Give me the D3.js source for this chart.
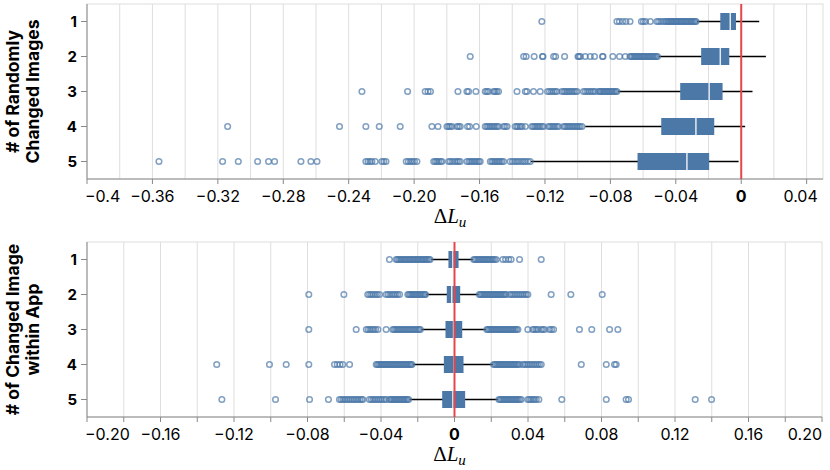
<!DOCTYPE html>
<html>
<head>
<meta charset="utf-8">
<script src="https://cdn.jsdelivr.net/npm/d3@7"></script>
<style>
  body { margin: 0; background: #fff; }
  text { font-family: Inter, "Liberation Sans", sans-serif; }
</style>
</head>
<body>
<svg id="chart" width="830" height="470"></svg>
<script>
const rows = ["1", "2", "3", "4", "5"];

// top panel: # of randomly changed images
const topLower  = [-0.0271, -0.0505, -0.0754, -0.0954, -0.1286];
const topQ1     = [-0.0128, -0.0245, -0.0373, -0.0489, -0.0634];
const topMedian = [-0.0067, -0.0128, -0.0196, -0.0277, -0.0332];
const topQ3     = [-0.0032, -0.0073, -0.0114, -0.0165, -0.0196];
const topUpper  = [0.011, 0.0151, 0.0069, 0.0024, -0.0016];
const topOutliers = [
  [-0.1219, -0.076, -0.0745, -0.0725, -0.0705, -0.068, -0.061, -0.0598, -0.0585, -0.0556,
   -0.0516, -0.0505, -0.0492, -0.0477, -0.0465, -0.0455, -0.0447, -0.044, -0.0432, -0.0425,
   -0.0418, -0.041, -0.0402, -0.0395, -0.0388, -0.038, -0.0372, -0.0365, -0.0358, -0.035,
   -0.0342, -0.0335, -0.0328, -0.032, -0.0312, -0.0305, -0.0298, -0.029, -0.0282, -0.0276],
  [-0.1657, -0.133, -0.1315, -0.1266, -0.1215, -0.1212, -0.1147, -0.1135, -0.108, -0.0998,
   -0.0992, -0.0984, -0.0954, -0.0923, -0.0897, -0.0848, -0.0845, -0.0785, -0.0744, -0.0709,
   -0.068, -0.0672, -0.0665, -0.0655, -0.0648, -0.064, -0.0632, -0.0625, -0.0618, -0.061,
   -0.0602, -0.0595, -0.0588, -0.058, -0.0572, -0.0565, -0.0558, -0.055, -0.0542, -0.0535,
   -0.0527, -0.052, -0.0512],
  [-0.2319, -0.204, -0.1932, -0.1915, -0.19, -0.1732, -0.1677, -0.1667, -0.1622, -0.1565,
   -0.1555, -0.1545, -0.1514, -0.1505, -0.1495, -0.1484, -0.1371, -0.132, -0.131, -0.127,
   -0.1229, -0.1184, -0.1172, -0.116, -0.1148, -0.1137, -0.1127, -0.1096, -0.1085, -0.1075,
   -0.1065, -0.1055, -0.1045, -0.1035, -0.1025, -0.1014, -0.1004, -0.0964, -0.0952, -0.094,
   -0.0928, -0.0916, -0.0905, -0.0893, -0.0872, -0.0864, -0.0856, -0.0848, -0.084, -0.0832,
   -0.0824, -0.0816, -0.0808, -0.08, -0.0792, -0.0784, -0.0776, -0.0768, -0.076],
  [-0.314, -0.2456, -0.2295, -0.2213, -0.2085, -0.1891, -0.1854, -0.1799, -0.1789, -0.1779,
   -0.1769, -0.1738, -0.1728, -0.1718, -0.1673, -0.1661, -0.162, -0.1565, -0.1555, -0.1545,
   -0.1535, -0.1525, -0.1514, -0.1504, -0.1494, -0.1484, -0.1453, -0.1443, -0.1432, -0.1382,
   -0.1372, -0.1362, -0.135, -0.134, -0.132, -0.128, -0.127, -0.126, -0.125, -0.124,
   -0.123, -0.1219, -0.1209, -0.1178, -0.1168, -0.1158, -0.1148, -0.1138, -0.1127, -0.1117,
   -0.1086, -0.1076, -0.1066, -0.1056, -0.1046, -0.1036, -0.1026, -0.1015, -0.1005, -0.0995,
   -0.0985, -0.0974],
  [-0.356, -0.3171, -0.3075, -0.2957, -0.289, -0.2853, -0.2692, -0.2631, -0.2594, -0.2295,
   -0.2282, -0.227, -0.2258, -0.2238, -0.2197, -0.2185, -0.2172, -0.2048, -0.2035, -0.2022,
   -0.201, -0.1998, -0.1983, -0.188, -0.187, -0.186, -0.185, -0.1838, -0.183, -0.1789,
   -0.1778, -0.1765, -0.175, -0.1738, -0.1728, -0.1718, -0.1677, -0.1665, -0.1655, -0.1645,
   -0.1635, -0.1625, -0.1615, -0.1605, -0.1596, -0.1534, -0.1524, -0.1514, -0.1504, -0.1494,
   -0.1484, -0.1474, -0.1464, -0.1453, -0.1412, -0.1398, -0.1385, -0.1372, -0.136, -0.1345,
   -0.1332, -0.132, -0.1305, -0.129]
];

// bottom panel: # of changed image within app
const botLower  = [-0.0127, -0.0154, -0.0181, -0.0227, -0.0245];
const botQ1     = [-0.0033, -0.0042, -0.0049, -0.0058, -0.0067];
const botMedian = [-0.0009, -0.0015, -0.0005, -0.0002, -0.0009];
const botQ3     = [0.0022, 0.0031, 0.0042, 0.0049, 0.0058];
const botUpper  = [0.01, 0.0131, 0.0172, 0.0209, 0.0236];
const botOutliers = [
  [-0.0354, -0.0317, -0.031, -0.0302, -0.0295, -0.0288, -0.028, -0.0272, -0.0265, -0.0258,
   -0.025, -0.0243, -0.0236, -0.0228, -0.0221, -0.0214, -0.0206, -0.0199, -0.0192, -0.0184,
   -0.0177, -0.017, -0.0162, -0.0155, -0.0148, -0.014, -0.0133,
   0.0105, 0.0112, 0.012, 0.0128, 0.0135, 0.0143, 0.015, 0.0158, 0.0165, 0.0173,
   0.018, 0.0188, 0.0195, 0.0203, 0.021, 0.0218, 0.0227, 0.0263, 0.0278, 0.0295,
   0.0308, 0.0354, 0.0472],
  [-0.0793, -0.0602, -0.0472, -0.0462, -0.0452, -0.0442, -0.043, -0.042, -0.0408, -0.0372,
   -0.0362, -0.0352, -0.034, -0.033, -0.032, -0.031, -0.0299, -0.0254, -0.0247, -0.024,
   -0.0233, -0.0226, -0.0219, -0.0212, -0.0205, -0.0198, -0.019, -0.0183, -0.0176, -0.0169,
   -0.0162, -0.0158,
   0.0135, 0.0142, 0.0149, 0.0156, 0.0163, 0.017, 0.0177, 0.0184, 0.0191, 0.0198,
   0.0205, 0.0212, 0.0219, 0.0226, 0.0233, 0.024, 0.0247, 0.0254, 0.0261, 0.0268,
   0.0275, 0.0281, 0.03, 0.031, 0.032, 0.033, 0.034, 0.035, 0.036, 0.037,
   0.038, 0.039, 0.0399, 0.0526, 0.0633, 0.0804],
  [-0.0793, -0.0535, -0.048, -0.047, -0.046, -0.045, -0.044, -0.043, -0.0417, -0.0372,
   -0.0336, -0.0328, -0.032, -0.0312, -0.0304, -0.0296, -0.0288, -0.028, -0.0272, -0.0264,
   -0.0256, -0.0248, -0.024, -0.0232, -0.0224, -0.0216, -0.0208, -0.02, -0.0192, -0.0186,
   0.0176, 0.0183, 0.019, 0.0197, 0.0204, 0.0211, 0.0218, 0.0225, 0.0232, 0.0239,
   0.0246, 0.0253, 0.026, 0.0267, 0.0274, 0.0281, 0.0288, 0.0295, 0.0302, 0.0309,
   0.0316, 0.0323, 0.033, 0.0338, 0.0345, 0.0399, 0.0426, 0.0435, 0.0445, 0.0454,
   0.0472, 0.048, 0.049, 0.0517, 0.0528, 0.0539, 0.068, 0.0747, 0.0844, 0.0889],
  [-0.1294, -0.1007, -0.0916, -0.0793, -0.0653, -0.0638, -0.0623, -0.0608, -0.0571, -0.0426,
   -0.0419, -0.0412, -0.0405, -0.0398, -0.0391, -0.0384, -0.0377, -0.037, -0.0363, -0.0356,
   -0.0349, -0.0342, -0.0335, -0.0328, -0.0321, -0.0314, -0.0307, -0.03, -0.0293, -0.0286,
   -0.0279, -0.0272, -0.0265, -0.0258, -0.0251, -0.0244, -0.0237, -0.0232,
   0.0213, 0.022, 0.0227, 0.0234, 0.0241, 0.0248, 0.0255, 0.0262, 0.0269, 0.0276,
   0.0283, 0.029, 0.0297, 0.0304, 0.0311, 0.0318, 0.0325, 0.0332, 0.0339, 0.0346,
   0.0354, 0.0372, 0.0382, 0.0392, 0.0402, 0.0412, 0.0422, 0.0432, 0.0442, 0.0452,
   0.0462, 0.0472, 0.069, 0.0826, 0.0871, 0.088],
  [-0.1266, -0.0974, -0.0789, -0.0686, -0.0626, -0.0616, -0.0606, -0.0596, -0.0586, -0.0576,
   -0.0566, -0.0556, -0.0546, -0.0536, -0.0526, -0.0516, -0.0506, -0.0499, -0.0463, -0.0453,
   -0.0443, -0.0433, -0.0423, -0.0413, -0.0403, -0.0393, -0.0382, -0.0372, -0.0354, -0.0347,
   -0.034, -0.0333, -0.0326, -0.0319, -0.0312, -0.0305, -0.0298, -0.0291, -0.0284, -0.0277,
   -0.027, -0.0263, -0.0256, -0.025,
   0.0242, 0.0249, 0.0256, 0.0263, 0.027, 0.0277, 0.0284, 0.0291, 0.0298, 0.0305,
   0.0312, 0.0319, 0.0326, 0.0333, 0.034, 0.0347, 0.0355, 0.0363, 0.0399, 0.0408,
   0.0417, 0.0426, 0.0435, 0.0445, 0.0459, 0.0584, 0.0826, 0.0934, 0.0947, 0.131, 0.1399]
];

const topLabelTicks = [-0.4, -0.36, -0.32, -0.28, -0.24, -0.2, -0.16, -0.12, -0.08, -0.04, 0, 0.04];
const topTickLabels = ["−0.4", "−0.36", "−0.32", "−0.28", "−0.24", "−0.20", "−0.16", "−0.12",
  "−0.08", "−0.04", "0", "0.04"];
const topGridTicks = [-0.38, -0.36, -0.34, -0.32, -0.3, -0.28, -0.26, -0.24, -0.22, -0.2, -0.18,
  -0.16, -0.14, -0.12, -0.1, -0.08, -0.06, -0.04, -0.02, 0, 0.02, 0.04];
const botLabelTicks = [-0.2, -0.16, -0.12, -0.08, -0.04, 0, 0.04, 0.08, 0.12, 0.16, 0.2];
const botTickLabels = ["−0.20", "−0.16", "−0.12", "−0.08", "−0.04", "0", "0.04", "0.08",
  "0.12", "0.16", "0.20"];
const botGridTicks = [-0.18, -0.16, -0.14, -0.12, -0.1, -0.08, -0.06, -0.04, -0.02, 0,
  0.02, 0.04, 0.06, 0.08, 0.1, 0.12, 0.14, 0.16, 0.18];
const botMinorTicks = [-0.2, -0.18, -0.16, -0.14, -0.12, -0.1, -0.08, -0.06, -0.04, -0.02, 0,
  0.02, 0.04, 0.06, 0.08, 0.1, 0.12, 0.14, 0.16, 0.18, 0.2];

const svg = d3.select("#chart");
const boxColor = "#4c78a8";
const gridColor = "#dedede";
const axisColor = "#888";
const zeroColor = "#e4474b";

function drawPanel(p) {
    const x = d3.scaleLinear().domain(p.domain).range([p.x0, p.x1]);
    const y = d3.scaleBand().domain(rows).range([p.y0, p.y1]);
    const cy = d => y(d) + y.bandwidth() / 2;
    const g = svg.append("g");

    // view border
    g.append("rect")
        .attr("x", p.x0).attr("y", p.y0)
        .attr("width", p.x1 - p.x0).attr("height", p.y1 - p.y0)
        .attr("fill", "none").attr("stroke", gridColor);

    g.append("g").selectAll("line")
        .data(p.grid)
        .enter().append("line")
        .attr("x1", d => x(d)).attr("x2", d => x(d))
        .attr("y1", p.y0).attr("y2", p.y1)
        .attr("stroke", gridColor).attr("stroke-width", 1);

    // x axis
    const xa = g.append("g").attr("transform", `translate(0,${p.y1})`);
    xa.append("line")
        .attr("x1", p.x0).attr("x2", p.x1)
        .attr("stroke", axisColor);
    xa.selectAll(".tk")
        .data(p.tickMarks)
        .enter().append("line")
        .attr("x1", d => x(d)).attr("x2", d => x(d))
        .attr("y1", 0).attr("y2", 5)
        .attr("stroke", axisColor);
    const n = p.labels.length;
    xa.selectAll(".lb")
        .data(p.labels)
        .enter().append("text")
        .attr("x", (d, i) => i === n - 1 ? x(d) + p.lastShift : x(d) - (i === 0 ? 2 : 0))
        .attr("y", 23)
        .attr("text-anchor", (d, i) => i === 0 ? "start" : (i === n - 1 ? p.lastAnchor : "middle"))
        .attr("font-size", 16)
        .attr("font-weight", d => d === 0 ? "bold" : "normal")
        .text((d, i) => p.labelText[i]);

    const title = xa.append("text")
        .attr("x", (p.x0 + p.x1) / 2 - 5)
        .attr("y", 44)
        .attr("text-anchor", "middle")
        .style("font-family", "'Liberation Serif', 'DejaVu Serif', serif")
        .attr("font-size", 21);
    title.append("tspan").text("Δ");
    title.append("tspan").attr("font-style", "italic").text("L");
    title.append("tspan").attr("font-style", "italic").attr("font-size", 15)
        .attr("dy", 4).text("u");

    // y axis
    const ya = g.append("g").attr("transform", `translate(${p.x0},0)`);
    ya.append("line")
        .attr("y1", p.y0).attr("y2", p.y1)
        .attr("stroke", axisColor);
    ya.selectAll(".tk")
        .data(rows)
        .enter().append("line")
        .attr("x1", -6).attr("x2", 0)
        .attr("y1", cy).attr("y2", cy)
        .attr("stroke", axisColor);
    ya.selectAll(".lb")
        .data(rows)
        .enter().append("text")
        .attr("x", -10)
        .attr("y", d => cy(d) + 5.5)
        .attr("text-anchor", "end")
        .attr("font-size", 15)
        .attr("font-weight", "bold")
        .text(d => d);

    const ty = g.append("text")
        .attr("transform", `translate(0,${(p.y0 + p.y1) / 2}) rotate(-90)`)
        .attr("text-anchor", "middle")
        .attr("font-size", 17.5)
        .attr("font-weight", "bold");
    ty.append("tspan").attr("x", 0).attr("y", 19).text(p.title[0]);
    ty.append("tspan").attr("x", 0).attr("y", 38.5).text(p.title[1]);

    // whiskers
    g.append("g").selectAll("line")
        .data(rows)
        .enter().append("line")
        .attr("x1", (d, i) => x(p.lower[i]))
        .attr("x2", (d, i) => x(p.upper[i]))
        .attr("y1", cy).attr("y2", cy)
        .attr("stroke", "#000").attr("stroke-width", 1.6);

    // outliers
    const pts = [];
    rows.forEach((r, i) => p.outliers[i].forEach(v => pts.push({ row: r, v })));
    g.append("g").selectAll("circle")
        .data(pts)
        .enter().append("circle")
        .attr("cx", d => x(d.v))
        .attr("cy", d => cy(d.row))
        .attr("r", 2.8)
        .attr("fill", "none")
        .attr("stroke", boxColor)
        .attr("stroke-width", 1.5)
        .attr("opacity", 0.7);

    // boxes
    const bh = 17;
    g.append("g").selectAll("rect")
        .data(rows)
        .enter().append("rect")
        .attr("x", (d, i) => x(p.q1[i]))
        .attr("width", (d, i) => x(p.q3[i]) - x(p.q1[i]))
        .attr("y", d => cy(d) - bh / 2)
        .attr("height", bh)
        .attr("fill", boxColor);

    g.append("g").selectAll("line")
        .data(rows)
        .enter().append("line")
        .attr("x1", (d, i) => x(p.median[i]))
        .attr("x2", (d, i) => x(p.median[i]))
        .attr("y1", d => cy(d) - bh / 2)
        .attr("y2", d => cy(d) + bh / 2)
        .attr("stroke", "#fff").attr("stroke-width", 1.5).attr("opacity", 0.85);

    // zero rule
    g.append("line")
        .attr("x1", x(0)).attr("x2", x(0))
        .attr("y1", p.y0).attr("y2", p.y1)
        .attr("stroke", zeroColor).attr("stroke-width", 2);
}

drawPanel({
    x0: 87, x1: 823, y0: 4, y1: 179,
    domain: [-0.4, 0.05],
    grid: topGridTicks, tickMarks: topLabelTicks, labels: topLabelTicks, labelText: topTickLabels,
    lastAnchor: "middle", lastShift: -6,
    lower: topLower, q1: topQ1, median: topMedian, q3: topQ3, upper: topUpper,
    outliers: topOutliers,
    title: ["# of Randomly", "Changed Images"]
});

drawPanel({
    x0: 87, x1: 822, y0: 242, y1: 417,
    domain: [-0.2, 0.2],
    grid: botGridTicks, tickMarks: botMinorTicks, labels: botLabelTicks, labelText: botTickLabels,
    lastAnchor: "end", lastShift: 0,
    lower: botLower, q1: botQ1, median: botMedian, q3: botQ3, upper: botUpper,
    outliers: botOutliers,
    title: ["# of Changed Image", "within App"]
});
</script>
</body>
</html>
